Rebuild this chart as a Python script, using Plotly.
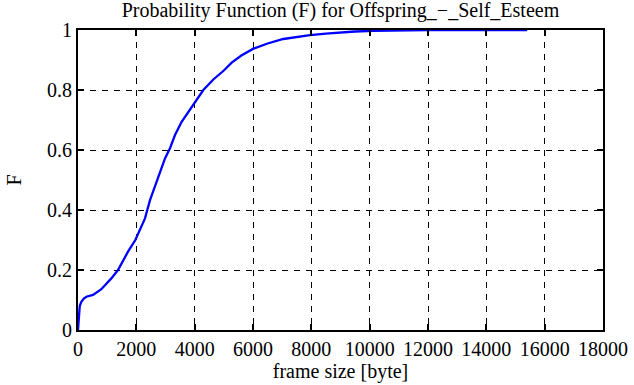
import plotly.graph_objects as go

frame_size = [0, 15, 34, 60, 114, 200, 286, 514, 800, 1143, 1371, 1714, 1966, 2171, 2297, 2469,
              2640, 2811, 2983, 3154, 3326, 3554, 3954, 4297, 4640, 5000, 5269, 5600, 6000,
              6500, 7040, 7500, 7954, 8500, 8983, 9500, 10114, 11040, 12000, 13000, 14000, 15400]
prob_F = [0, 0.03, 0.056, 0.08, 0.094, 0.105, 0.111, 0.117, 0.136, 0.172, 0.2, 0.261, 0.3, 0.344, 0.372, 0.433,
          0.478, 0.528, 0.572, 0.606, 0.65, 0.694, 0.75, 0.8, 0.835, 0.865, 0.891, 0.915, 0.937,
          0.955, 0.97, 0.977, 0.983, 0.988, 0.992, 0.995, 0.997, 0.999, 0.9995, 1.0, 1.0, 1.0]

x_ticks = [0, 2000, 4000, 6000, 8000, 10000, 12000, 14000, 16000, 18000]
y_ticks = [0, 0.2, 0.4, 0.6, 0.8, 1]
y_tick_labels = ["0", "0.2", "0.4", "0.6", "0.8", "1"]

FONT = "serif"
SIZE = 20

fig = go.Figure()
fig.add_trace(go.Scatter(x=frame_size, y=prob_F, mode="lines",
                         line=dict(color="#0000ff", width=2.3), showlegend=False))

axis_common = dict(showline=True, linecolor="black", linewidth=2, mirror="ticks",
                   ticks="inside", ticklen=6, tickcolor="black", tickwidth=1.5,
                   showgrid=True, gridcolor="black", gridwidth=1, griddash="6px,6px",
                   zeroline=False, automargin=False,
                   tickfont=dict(family=FONT, size=SIZE, color="black"))

fig.update_xaxes(range=[0, 18000], tickvals=x_ticks, ticktext=[str(v) for v in x_ticks],
                 title=dict(text="frame size [byte]", font=dict(family=FONT, size=SIZE, color="black"),
                            standoff=4),
                 **axis_common)
fig.update_yaxes(range=[0, 1], tickvals=y_ticks, ticktext=y_tick_labels,
                 title=dict(text="F", font=dict(family=FONT, size=SIZE, color="black"), standoff=20),
                 **axis_common)

fig.update_layout(
    width=634, height=385,
    margin=dict(l=78, r=31, t=30, b=55, autoexpand=False),
    paper_bgcolor="white", plot_bgcolor="white",
    font=dict(family=FONT),
    title=dict(text="Probability Function (F) for Offspring_\u2212_Self_Esteem",
               font=dict(family=FONT, size=SIZE, color="black"),
               x=0.537, xanchor="center", y=0.975, yanchor="middle"),
)

fig.write_html("out.html", config={"displayModeBar": False},
               post_script="document.body.style.margin='0';document.body.style.padding='0';")
